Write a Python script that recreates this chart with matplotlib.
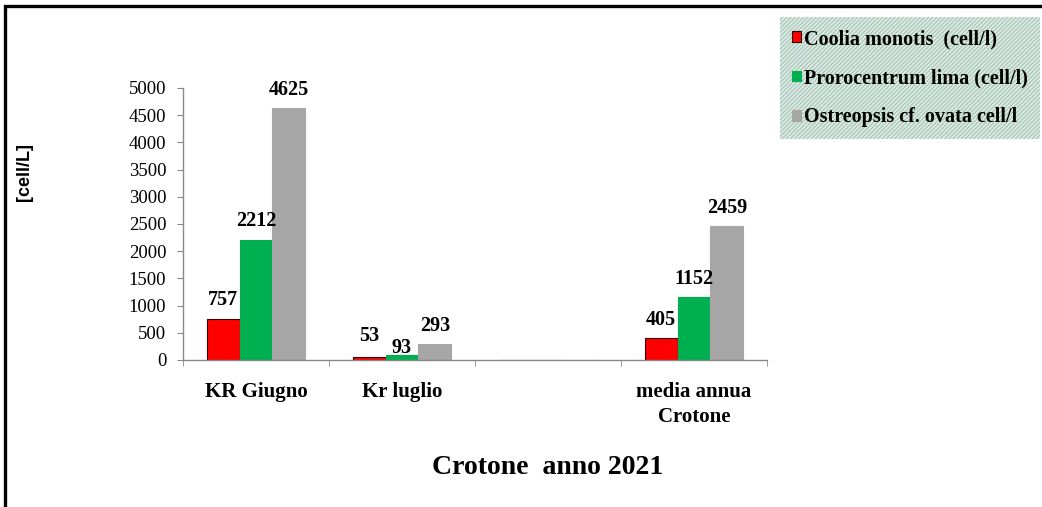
import numpy as np
import matplotlib.pyplot as plt
from matplotlib.patches import Rectangle

# dati: cellule/L per sito e mese
categories = ['KR Giugno', 'Kr luglio', '', 'media annua\nCrotone']
coolia = [757, 53, 0, 405]
prorocentrum = [2212, 93, 0, 1152]
ostreopsis = [4625, 293, 0, 2459]
series_names = ['Coolia monotis  (cell/l)', 'Prorocentrum lima (cell/l)',
                'Ostreopsis cf. ovata cell/l']
colors = ['#ff0000', '#00b050', '#a6a6a6']
yticks = np.arange(0, 5001, 500)

serif = ['Liberation Serif', 'DejaVu Serif']
plt.rcParams['font.family'] = serif
plt.rcParams['hatch.linewidth'] = 0.7

fig = plt.figure(figsize=(10.42, 5.07), dpi=100)
ax = fig.add_axes([183 / 1042, 1 - 360 / 507, (767 - 183) / 1042, (360 - 88) / 507])

x = np.arange(len(categories))
w = 0.225
series = [coolia, prorocentrum, ostreopsis]
bars = []
for i, (vals, col, name) in enumerate(zip(series, colors, series_names)):
    ec = '#300000' if i == 0 else col
    b = ax.bar(x + (i - 1) * w, vals, w, color=col, edgecolor=ec, linewidth=0.8,
               label=name, zorder=2)
    bars.append(b)

# etichette dei valori (la categoria vuota non ha etichette)
for i, (b, vals) in enumerate(zip(bars, series)):
    for j, (rect, v) in enumerate(zip(b, vals)):
        if v == 0:
            continue
        dy = 6
        if j == 1 and i == 1:
            dy = -2
        elif j == 1 and i == 0:
            dy = 8
        ax.annotate(str(v), (rect.get_x() + rect.get_width() / 2, v),
                    xytext=(0, dy), textcoords='offset points',
                    ha='center', va='bottom', fontsize=14.5, fontweight='bold')

ax.set_xlim(-0.5, len(categories) - 0.5)
ax.set_ylim(0, 5000)
ax.set_yticks(yticks)
ax.set_yticklabels([str(t) for t in yticks], fontsize=13.5)
ax.set_xticks(x)
ax.set_xticklabels(categories, fontsize=15, fontweight='bold', linespacing=1.3)
ax.tick_params(axis='x', length=0, pad=16)
ax.set_xticks(np.arange(len(categories) + 1) - 0.5, minor=True)
ax.tick_params(axis='x', which='minor', length=4, color='#888888')
ax.tick_params(axis='y', length=4, color='#888888', pad=8)

for s in ['top', 'right']:
    ax.spines[s].set_visible(False)
for s in ['left', 'bottom']:
    ax.spines[s].set_color('#888888')
    ax.spines[s].set_linewidth(1)

fig.text(25 / 1042, 1 - 172 / 507, '[cell/L]', rotation=90, ha='center',
         va='center', fontsize=13, fontweight='bold', family='Liberation Sans')

fig.text(548 / 1042, 1 - 468 / 507, 'Crotone  anno 2021', ha='center',
         va='center', fontsize=20, fontweight='bold')

# legenda con sfondo tratteggiato
leg = fig.legend(loc='upper left', bbox_to_anchor=(780 / 1042, 1 - 17 / 507),
                 bbox_transform=fig.transFigure, frameon=True, fancybox=False,
                 prop={'family': serif, 'weight': 'bold', 'size': 14.5},
                 handlelength=0.45, handleheight=0.45, handletextpad=0.15,
                 labelspacing=0.95, borderpad=0.6, borderaxespad=0)
frame = leg.get_frame()
frame.set_facecolor('#d9ebe3')
frame.set_edgecolor('#a3bdb2')
frame.set_hatch('////////')
frame.set_linewidth(0)
frame.set_alpha(None)

# cornice esterna
fig.patches.append(Rectangle((5 / 1042, -0.05), 1.1, 1 - 6 / 507 + 0.05,
                             transform=fig.transFigure, fill=False,
                             edgecolor='black', linewidth=2.4))

fig.savefig('out.png', dpi=100)
